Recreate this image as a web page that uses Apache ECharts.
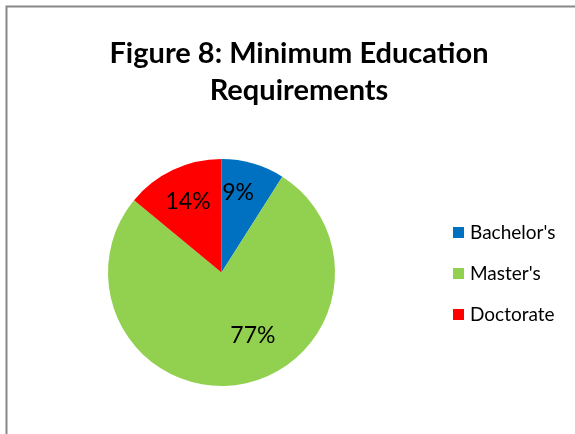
<!DOCTYPE html>
<html><head><meta charset="utf-8">
<script src="https://cdn.jsdelivr.net/npm/echarts@6/dist/echarts.min.js"></script>
<style>html,body{margin:0;padding:0;background:#fff}#c{width:575px;height:434px}</style>
</head><body><div id="c"></div>
<script>
const titleText = "Figure 8: Minimum Education\nRequirements";
const categories = ["Bachelor's", "Master's", "Doctorate"];
const values = [9, 77, 14];
const colors = ['#0070C0', '#92D050', '#FF0000'];
const labelOffsets = [[0, -23], [22, 4], [-8, -17]];

const chart = echarts.init(document.getElementById('c'), null, {renderer: 'canvas'});
chart.setOption({
  animation: false,
  backgroundColor: '#fff',
  graphic: [{
    type: 'rect', shape: {x: 6.5, y: 6.5, width: 700, height: 600},
    style: {fill: 'none', stroke: '#888888', lineWidth: 2}, z: 100
  }],
  title: {
    text: titleText, left: 294, top: 30, textAlign: 'center',
    textStyle: {fontFamily: 'Lato', fontWeight: 'bold', fontSize: 29, lineHeight: 37, color: '#000'}
  },
  legend: {
    orient: 'vertical', left: 448, top: 218, itemWidth: 11, itemHeight: 11, itemGap: 22, itemStyle: {borderWidth: 0},
    icon: 'rect', data: categories,
    textStyle: {fontFamily: 'Lato', fontSize: 19, color: '#000', padding: [0, 0, 0, 1]}
  },
  series: [{
    type: 'pie', center: [221.5, 272.5], radius: 113.5, startAngle: 90, clockwise: true,
    label: {show: true, position: 'inside', formatter: '{d}%', fontFamily: 'Lato', fontSize: 23, color: '#000'},
    labelLine: {show: false},
    emphasis: {disabled: true},
    data: categories.map((c, i) => ({name: c, value: values[i], itemStyle: {color: colors[i]}, label: {offset: labelOffsets[i]}}))
  }]
});
</script></body></html>
